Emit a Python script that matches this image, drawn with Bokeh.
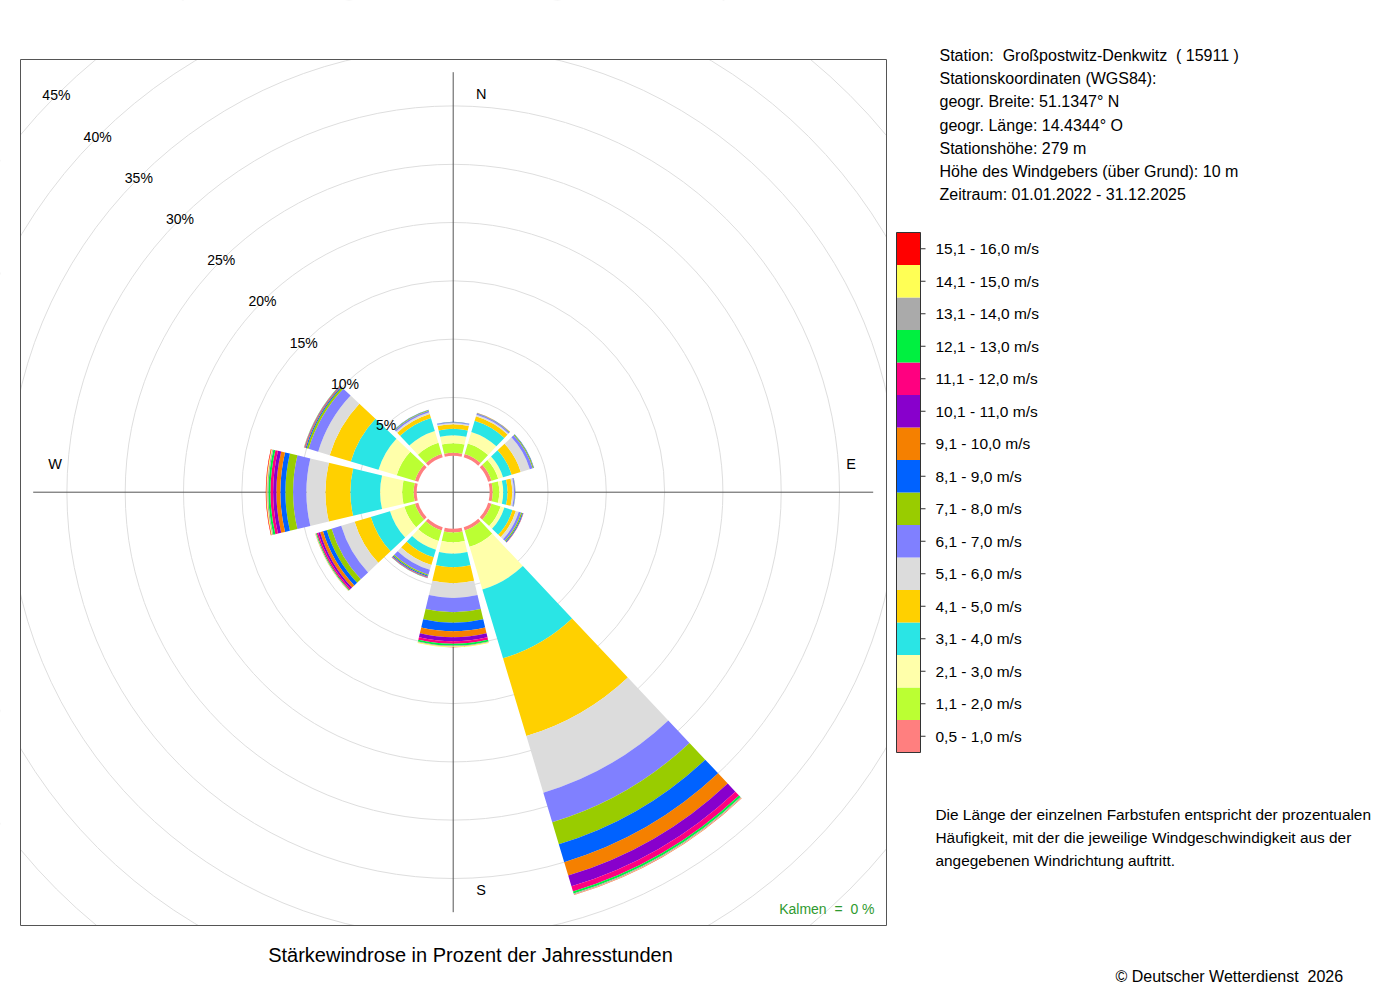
import math
from bokeh.plotting import figure
from bokeh.models import Range1d, ColumnDataSource
from bokeh.core.properties import value
from bokeh.embed import file_html
from bokeh.resources import INLINE

# ---------------- data ----------------
directions = [0, 30, 60, 90, 120, 150, 180, 210, 240, 270, 300, 330]

speed_labels = ["0,5 - 1,0 m/s", "1,1 - 2,0 m/s", "2,1 - 3,0 m/s", "3,1 - 4,0 m/s",
                "4,1 - 5,0 m/s", "5,1 - 6,0 m/s", "6,1 - 7,0 m/s", "7,1 - 8,0 m/s",
                "8,1 - 9,0 m/s", "9,1 - 10,0 m/s", "10,1 - 11,0 m/s", "11,1 - 12,0 m/s",
                "12,1 - 13,0 m/s", "13,1 - 14,0 m/s", "14,1 - 15,0 m/s", "15,1 - 16,0 m/s"]
speed_colors = ["#FF7F7F", "#BBFF33", "#FFFFAA", "#2AE5E5", "#FFD000", "#DCDCDC",
                "#8080FF", "#99CC00", "#0062FF", "#F58000", "#8800CC", "#FF0080",
                "#00F040", "#AAAAAA", "#FFFF55", "#FF0000"]

# percent of hours per speed class (0,5-1,0 ... 15,1-16,0) for each direction sector
freq_000 = [0.25, 0.82, 0.69, 0.55, 0.39, 0.11, 0.06, 0.02, 0.01, 0, 0, 0, 0, 0, 0, 0]
freq_030 = [0.30, 0.94, 1.03, 1.00, 0.40, 0.13, 0.11, 0.04, 0.02, 0.01, 0, 0, 0, 0, 0, 0]
freq_060 = [0.30, 0.60, 0.43, 0.77, 0.82, 0.81, 0.26, 0.08, 0.04, 0.01, 0, 0, 0, 0, 0, 0]
freq_090 = [0.26, 0.56, 0.34, 0.37, 0.40, 0.15, 0.10, 0.02, 0.01, 0, 0, 0, 0, 0, 0, 0]
freq_120 = [0.30, 0.81, 0.34, 0.73, 0.30, 0.26, 0.21, 0.10, 0.07, 0.03, 0.01, 0.01, 0, 0, 0, 0]
freq_150 = [0.30, 1.46, 3.82, 6.16, 6.97, 5.06, 2.65, 1.97, 1.61, 1.20, 0.96, 0.46, 0.18, 0.09, 0.03, 0.02]
freq_180 = [0.33, 0.83, 0.99, 1.15, 1.37, 1.26, 1.23, 0.91, 0.72, 0.51, 0.35, 0.22, 0.15, 0.07, 0.06, 0.01]
freq_210 = [0.30, 0.94, 0.78, 0.68, 0.69, 0.43, 0.43, 0.11, 0.08, 0.05, 0.03, 0.03, 0.01, 0.01, 0, 0]
freq_240 = [0.30, 0.94, 1.29, 1.72, 1.45, 1.20, 0.86, 0.43, 0.34, 0.26, 0.17, 0.13, 0.07, 0.03, 0.03, 0.01]
freq_270 = [0.26, 0.99, 1.89, 2.55, 2.14, 1.63, 1.14, 0.66, 0.43, 0.34, 0.28, 0.23, 0.18, 0.10, 0.07, 0.05]
freq_300 = [0.30, 1.63, 1.63, 2.48, 1.89, 1.03, 0.86, 0.17, 0.09, 0.06, 0.04, 0.03, 0.02, 0.01, 0.01, 0]
freq_330 = [0.30, 0.99, 1.07, 1.16, 0.36, 0.15, 0.13, 0.06, 0.03, 0.01, 0, 0, 0, 0, 0, 0]
freq_table = [freq_000, freq_030, freq_060, freq_090, freq_120, freq_150,
              freq_180, freq_210, freq_240, freq_270, freq_300, freq_330]

ring_percents = [5, 10, 15, 20, 25, 30, 35, 40, 45]
ring_labels = ["5%", "10%", "15%", "20%", "25%", "30%", "35%", "40%", "45%"]
compass_labels = ["N", "E", "S", "W"]
compass_bearings = [0, 90, 180, 270]

NB = "\u00a0"
station_lines = ["Station:" + NB + " Großpostwitz-Denkwitz" + NB + " ( 15911 )",
                 "Stationskoordinaten (WGS84):",
                 "geogr. Breite: 51.1347° N",
                 "geogr. Länge: 14.4344° O",
                 "Stationshöhe: 279 m",
                 "Höhe des Windgebers (über Grund): 10 m",
                 "Zeitraum: 01.01.2022 - 31.12.2025"]
note_lines = ["Die Länge der einzelnen Farbstufen entspricht der prozentualen",
              "Häufigkeit, mit der die jeweilige Windgeschwindigkeit aus der",
              "angegebenen Windrichtung auftritt."]
title_text = "Stärkewindrose in Prozent der Jahresstunden"
calm_text = "Kalmen" + NB + " =" + NB + " 0 %"
copyright_text = "© Deutscher Wetterdienst" + NB + " 2026"

# ---------------- layout (page pixel coordinates) ----------------
PW, PH = 1384, 984
TOP = 1000
def Y(yp):
    return TOP - yp

CX, CY = 452.7, 491.7      # rose centre
R0 = 36.5                  # radius of the 0 % circle (calm hole)
K = 11.66                  # pixels per percent
HALF = 13.3                # half angular width of a sector (deg)
FX0, FY0, FX1, FY1 = 20, 59, 886, 925   # rose frame
FONT = value("Liberation Sans")

p = figure(width=PW, height=PH, x_range=Range1d(0, PW), y_range=Range1d(TOP - PH, TOP),
           output_backend="svg", toolbar_location=None, min_border=0,
           x_axis_location=None, y_axis_location=None)
p.grid.visible = False
p.outline_line_color = None
p.background_fill_color = "white"

# grid circles
p.circle(x=[CX] * len(ring_percents), y=[Y(CY)] * len(ring_percents),
         radius=[R0 + K * v for v in ring_percents],
         fill_color=None, line_color="#dedede", line_width=1)

# white masks outside the rose frame
p.quad(left=[-10, FX1, -10, -10], right=[FX0, PW + 10, PW + 10, PW + 10],
       bottom=[TOP - PH - 10, TOP - PH - 10, Y(FY0), TOP - PH - 10],
       top=[TOP + 10, TOP + 10, TOP + 10, Y(FY1)],
       fill_color="white", line_color=None)

# frame
p.quad(left=[FX0], right=[FX1], bottom=[Y(FY1)], top=[Y(FY0)],
       fill_color=None, line_color="#555555", line_width=1)

# axis cross
AX = 420
p.segment(x0=[CX, CX - AX], y0=[Y(CY - AX), Y(CY)], x1=[CX, CX + AX], y1=[Y(CY + AX), Y(CY)],
          line_color="#555555", line_width=1)

# wedges
wx, wy, ri, ro, a0, a1, wc = [], [], [], [], [], [], []
for d, freqs in zip(directions, freq_table):
    cum = 0.0
    for v, c in zip(freqs, speed_colors):
        if v <= 0:
            continue
        ri.append(R0 + K * cum)
        cum += v
        ro.append(R0 + K * cum)
        wx.append(CX)
        wy.append(Y(CY))
        a0.append(math.radians(90 - d - HALF))
        a1.append(math.radians(90 - d + HALF))
        wc.append(c)
wsrc = ColumnDataSource(dict(x=wx, y=wy, ri=ri, ro=ro, a0=a0, a1=a1, c=wc))
p.annular_wedge(x="x", y="y", inner_radius="ri", outer_radius="ro",
                start_angle="a0", end_angle="a1",
                fill_color="c", line_color=None, source=wsrc)

# ring labels at 315 degrees
rl_x = [CX - 0.7071 * (R0 + K * v) for v in ring_percents]
rl_y = [Y(CY) + 0.7071 * (R0 + K * v) for v in ring_percents]
p.text(x=rl_x, y=rl_y, text=ring_labels, text_font=FONT, text_font_size="14px",
       text_align="center", text_baseline="middle", text_color="black")

# compass labels
LR, LO = 398, 28
cl_x, cl_y = [], []
for b in compass_bearings:
    if b == 0:
        cl_x.append(CX + LO); cl_y.append(Y(CY - LR))
    elif b == 180:
        cl_x.append(CX + LO); cl_y.append(Y(CY + LR))
    elif b == 90:
        cl_x.append(CX + LR); cl_y.append(Y(CY - LO))
    else:
        cl_x.append(CX - LR); cl_y.append(Y(CY - LO))
p.text(x=cl_x, y=cl_y, text=compass_labels, text_font=FONT, text_font_size="14.5px",
       text_align="center", text_baseline="middle", text_color="black")

# calm text
p.text(x=[874], y=[Y(908)], text=[calm_text], text_font=FONT, text_font_size="14px",
       text_align="right", text_baseline="middle", text_color="#2f9a2f")

# title and copyright
p.text(x=[470], y=[Y(954)], text=[title_text], text_font=FONT, text_font_size="20px",
       text_align="center", text_baseline="middle", text_color="black")
p.text(x=[1115], y=[Y(976)], text=[copyright_text], text_font=FONT, text_font_size="16px",
       text_align="left", text_baseline="middle", text_color="black")

# station info
p.text(x=[939] * len(station_lines), y=[Y(55 + 23.2 * i) for i in range(len(station_lines))],
       text=station_lines, text_font=FONT, text_font_size="16px",
       text_align="left", text_baseline="middle", text_color="black")
p.text(x=[935] * len(note_lines), y=[Y(814 + 23 * i) for i in range(len(note_lines))],
       text=note_lines, text_font=FONT, text_font_size="15.4px",
       text_align="left", text_baseline="middle", text_color="black")

# colour legend
LX0, LX1, LT, LH = 896, 920, 232, 32.5
n = len(speed_colors)
tops = [LT + LH * (n - 1 - j) for j in range(n)]
p.quad(left=[LX0] * n, right=[LX1] * n, top=[Y(t) for t in tops],
       bottom=[Y(t + LH) for t in tops], fill_color=speed_colors, line_color=None)
p.quad(left=[LX0], right=[LX1], top=[Y(LT)], bottom=[Y(LT + LH * n)],
       fill_color=None, line_color="#333333", line_width=1)
mids = [t + LH / 2 for t in tops]
p.segment(x0=[LX1] * n, x1=[LX1 + 5] * n, y0=[Y(m) for m in mids], y1=[Y(m) for m in mids],
          line_color="#333333", line_width=1)
p.text(x=[935] * n, y=[Y(m) for m in mids], text=speed_labels, text_font=FONT,
       text_font_size="15.5px", text_align="left", text_baseline="middle", text_color="black")

open("out.html", "w").write(file_html(p, INLINE))
